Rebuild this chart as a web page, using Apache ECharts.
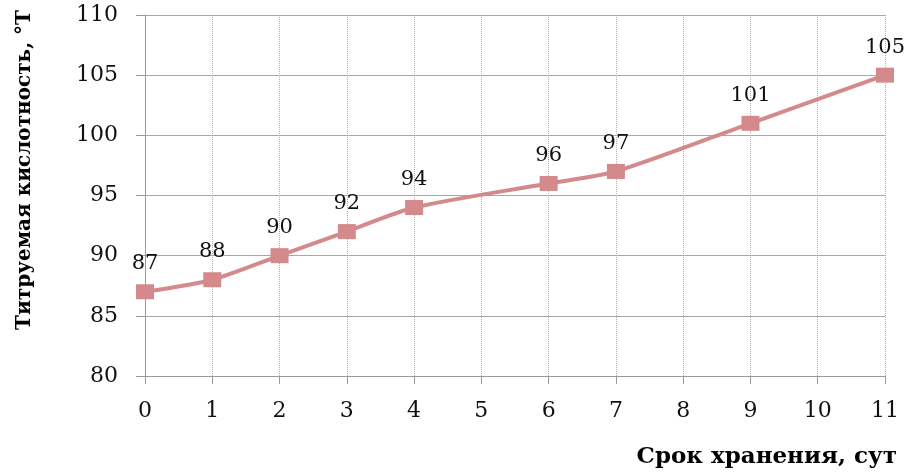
<!DOCTYPE html>
<html><head><meta charset="utf-8">
<script src="https://cdn.jsdelivr.net/npm/echarts@6/dist/echarts.min.js"></script>
<style>html,body{margin:0;padding:0;background:#fff}#c{width:909px;height:475px}</style>
</head><body><div id="c"></div>
<script>
const days = [0, 1, 2, 3, 4, 6, 7, 9, 11];
const acidity = [87, 88, 90, 92, 94, 96, 97, 101, 105];
const xTitle = 'Срок хранения, сут';
const yTitle = 'Титруемая кислотность, °Т';

const chart = echarts.init(document.getElementById('c'), null, {renderer: 'canvas'});
const serif = '"DejaVu Serif", "Liberation Serif", serif';
chart.setOption({
  animation: false,
  grid: {left: 145, right: 24, top: 15, bottom: 99},
  xAxis: {
    type: 'value', min: 0, max: 11, interval: 1,
    axisLine: {show: true, lineStyle: {color: '#9a9a9a', width: 1}},
    axisTick: {show: true, length: 8, lineStyle: {color: '#9a9a9a'}},
    axisLabel: {color: '#111', fontFamily: serif, fontSize: 22, margin: 24},
    splitLine: {show: true, lineStyle: {color: '#b0b0b0', type: [1, 1], width: 1}}
  },
  yAxis: {
    type: 'value', min: 80, max: 110, interval: 5,
    axisLine: {show: true, lineStyle: {color: '#9a9a9a', width: 1}},
    axisTick: {show: true, length: 9, lineStyle: {color: '#9a9a9a'}},
    axisLabel: {color: '#111', fontFamily: serif, fontSize: 22, margin: 27},
    splitLine: {show: true, lineStyle: {color: '#a8a8a8', width: 1}}
  },
  graphic: [
    {type: 'text', right: 12, top: 446, style: {text: xTitle, fill: '#000', font: 'bold 23px ' + serif}},
    {type: 'text', left: 15, top: 10, rotation: Math.PI / 2, style: {text: yTitle, fill: '#000', font: 'bold 20px ' + serif}}
  ],
  series: [{
    type: 'line',
    data: days.map((d, i) => [d, acidity[i]]),
    smooth: 0.25,
    symbol: 'rect',
    symbolSize: [18, 15],
    lineStyle: {color: '#d48a8c', width: 4},
    itemStyle: {color: '#d48a8c'},
    label: {show: true, position: 'top', distance: 10, color: '#111', fontFamily: serif, fontSize: 21, formatter: p => p.value[1]}
  }]
});
</script></body></html>
